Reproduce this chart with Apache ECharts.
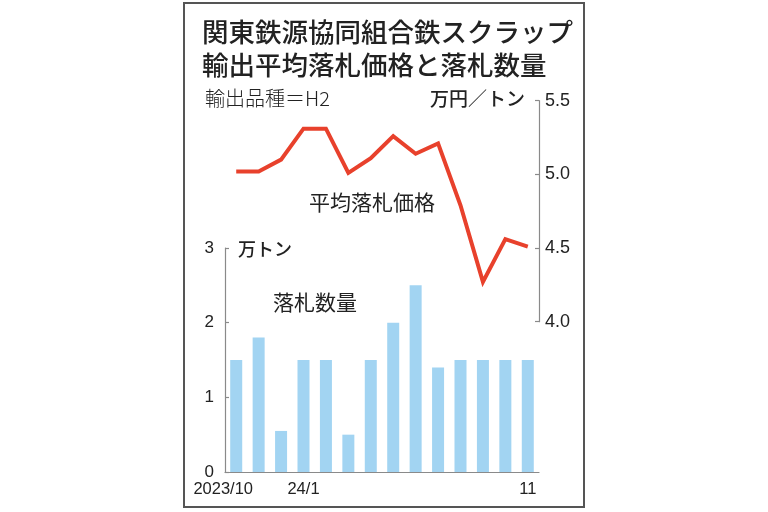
<!DOCTYPE html>
<html><head><meta charset="utf-8">
<script src="https://cdn.jsdelivr.net/npm/echarts@6/dist/echarts.min.js"></script>
<style>html,body{margin:0;padding:0;background:#fff}#c{width:768px;height:512px}</style>
</head><body><div id="c"></div>
<script>
const months = ['2023/10','11','12','24/1','2','3','4','5','6','7','8','9','10','11'];
const shownLabels = ['2023/10','','','24/1','','','','','','','','','','11'];
const quantity = [1.5,1.8,0.55,1.5,1.5,0.5,1.5,2.0,2.5,1.4,1.5,1.5,1.5,1.5];
const price = [5.02,5.02,5.10,5.31,5.31,5.01,5.11,5.26,5.14,5.21,4.79,4.27,4.56,4.51];
const titleText = '関東鉄源協同組合鉄スクラップ\n輸出平均落札価格と落札数量';

const CJK = "Noto Sans CJK JP";
const NUM = "Liberation Sans";
const axisCol = '#8a8a8a';
const txt = '#222';

const chart = echarts.init(document.getElementById('c'), null, {renderer:'canvas'});
chart.setOption({
  backgroundColor:'#fff',
  animation:false,
  title:{
    text:titleText, left:197, top:10,
    textStyle:{fontFamily:CJK, fontSize:26.5, fontWeight:500, color:txt, lineHeight:33}
  },
  grid:[
    {left:225, width:314, top:100.7, height:221},
    {left:225, width:314, top:248, height:224}
  ],
  xAxis:[
    {gridIndex:0, type:'category', data:months, show:false, boundaryGap:true},
    {gridIndex:1, type:'category', data:months, boundaryGap:true,
     axisLine:{lineStyle:{color:axisCol, width:1.2}},
     axisTick:{show:false},
     axisLabel:{interval:0, margin:9, color:txt, fontFamily:NUM, fontSize:16.5,
       formatter:function(v,i){ const s = shownLabels[i]; if(!s) return ''; return i===0 ? '{a|'+s+'}' : '{b|'+s+'}'; },
       rich:{
         a:{fontFamily:NUM, fontSize:16.5, color:txt, padding:[0,26,0,0]},
         b:{fontFamily:NUM, fontSize:16.5, color:txt}
       }}
    }
  ],
  yAxis:[
    {gridIndex:0, type:'value', position:'right', min:4.0, max:5.5, interval:0.5,
     splitLine:{show:false},
     axisLine:{show:true, lineStyle:{color:axisCol, width:1.2}},
     axisTick:{show:true, inside:true, length:4, lineStyle:{color:axisCol, width:1.2}},
     axisLabel:{margin:6, color:txt, fontFamily:NUM, fontSize:18, formatter:v=>v.toFixed(1)}
    },
    {gridIndex:1, type:'value', position:'left', min:0, max:3, interval:1,
     splitLine:{show:false},
     axisLine:{show:true, lineStyle:{color:axisCol, width:1.2}},
     axisTick:{show:true, inside:true, length:4, lineStyle:{color:axisCol, width:1.2}},
     axisLabel:{margin:11, color:txt, fontFamily:NUM, fontSize:17}
    }
  ],
  series:[
    {type:'bar', xAxisIndex:1, yAxisIndex:1, data:quantity, barWidth:12,
     itemStyle:{color:'#a2d4f2'}, z:2},
    {type:'line', xAxisIndex:0, yAxisIndex:0, data:price, symbol:'none',
     lineStyle:{color:'#e8412c', width:4, join:'miter'}, z:3}
  ],
  graphic:[
    {type:'rect', shape:{x:184, y:3, width:400, height:504},
     style:{fill:'none', stroke:'#555', lineWidth:2}, silent:true},
    {type:'text', left:205, top:88, style:{text:'輸出品種＝H2', fontFamily:CJK, fontSize:20, fontWeight:300, fill:txt}},
    {type:'text', left:430, top:89, style:{text:'万円／トン', fontFamily:CJK, fontSize:19, fontWeight:500, fill:txt}},
    {type:'text', left:309, top:192, style:{text:'平均落札価格', fontFamily:CJK, fontSize:21, fill:txt}},
    {type:'text', left:273, top:292, style:{text:'落札数量', fontFamily:CJK, fontSize:21, fill:txt}},
    {type:'text', left:238, top:240, style:{text:'万トン', fontFamily:CJK, fontSize:18, fontWeight:500, fill:txt}}
  ]
});
</script></body></html>
